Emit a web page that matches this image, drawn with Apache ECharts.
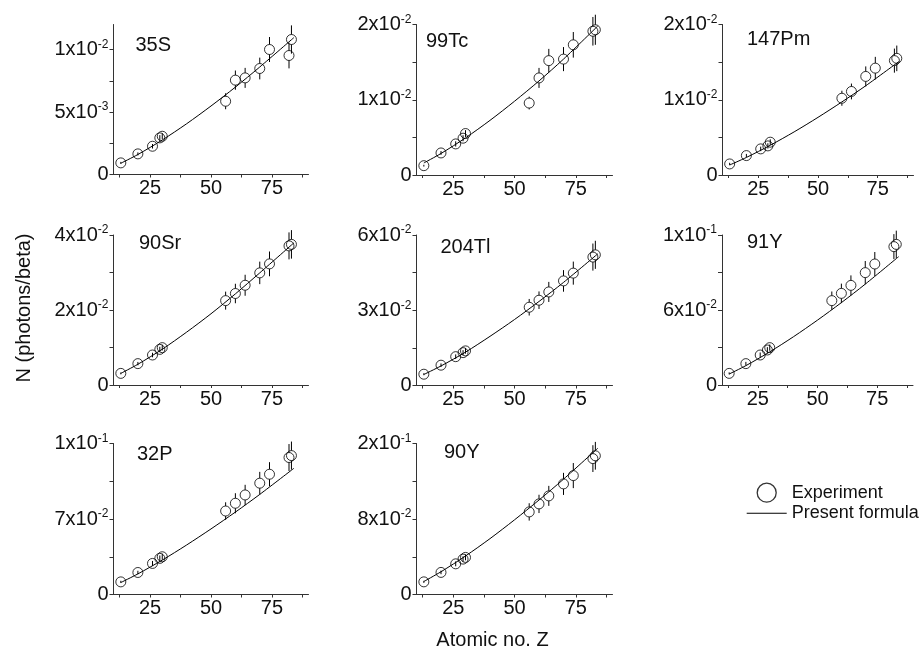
<!DOCTYPE html>
<html>
<head>
<meta charset="utf-8">
<script src="https://cdn.jsdelivr.net/npm/echarts@6/dist/echarts.min.js"></script>
<style>
  html, body { margin: 0; padding: 0; background: #fff; }
  #chart { width: 920px; height: 655px; }
</style>
</head>
<body>
<div id="chart"></div>
<script>
const FONT = "'Liberation Sans', Arial, Helvetica, sans-serif";

// Target atomic numbers (Al, Ca, Fe, Cu, Zn, Ba, Nd, Gd, Yb, W, Pb, Bi)
const zTargets = [13, 20, 26, 29, 30, 56, 60, 64, 70, 74, 82, 83];
// Z values at which the formula curve is tabulated
const zFormula = [13, 20, 30, 40, 50, 60, 70, 84];

const isotopes = ['35S', '99Tc', '147Pm', '90Sr', '204Tl', '91Y', '32P', '90Y'];

// Measured yields N (photons/beta) per target, and their uncertainties
const exp35S   = [0.93e-3, 1.65e-3, 2.26e-3, 2.93e-3, 3.06e-3, 5.86e-3, 7.55e-3, 7.73e-3, 8.48e-3, 10.0e-3, 9.52e-3, 10.8e-3];
const err35S   = [0.08e-3, 0.12e-3, 0.18e-3, 0.22e-3, 0.24e-3, 0.64e-3, 0.77e-3, 0.80e-3, 0.87e-3, 1.00e-3, 1.03e-3, 1.13e-3];
const exp99Tc  = [1.24e-3, 2.93e-3, 4.13e-3, 4.89e-3, 5.51e-3, 9.56e-3, 12.9e-3, 15.2e-3, 15.4e-3, 17.3e-3, 19.1e-3, 19.3e-3];
const err99Tc  = [0.12e-3, 0.25e-3, 0.35e-3, 0.40e-3, 0.45e-3, 0.85e-3, 1.33e-3, 1.56e-3, 1.60e-3, 1.70e-3, 1.90e-3, 2.00e-3];
const exp147Pm = [1.47e-3, 2.58e-3, 3.47e-3, 3.87e-3, 4.36e-3, null, 10.2e-3, 11.1e-3, 13.1e-3, 14.2e-3, 15.2e-3, 15.5e-3];
const err147Pm = [0.15e-3, 0.22e-3, 0.30e-3, 0.35e-3, 0.38e-3, null, 1.00e-3, 1.05e-3, 1.33e-3, 1.50e-3, 1.60e-3, 1.70e-3];
const exp90Sr  = [3.1e-3, 5.7e-3, 8.0e-3, 9.5e-3, 9.96e-3, 22.5e-3, 24.4e-3, 26.6e-3, 29.9e-3, 32.3e-3, 37.1e-3, 37.5e-3];
const err90Sr  = [0.25e-3, 0.45e-3, 0.60e-3, 0.70e-3, 0.75e-3, 2.4e-3, 2.6e-3, 2.8e-3, 3.0e-3, 3.3e-3, 3.6e-3, 3.8e-3];
const exp204Tl = [4.5e-3, 8.1e-3, 11.5e-3, 13.1e-3, 13.8e-3, 31.2e-3, 34.0e-3, 37.3e-3, 41.7e-3, 44.8e-3, 51.2e-3, 52.1e-3];
const err204Tl = [0.4e-3, 0.7e-3, 0.9e-3, 1.0e-3, 1.1e-3, 3.3e-3, 3.5e-3, 4.0e-3, 4.3e-3, 4.6e-3, 5.4e-3, 5.6e-3];
const exp91Y   = [9.3e-3, 17.1e-3, 24.0e-3, 28.0e-3, 29.9e-3, 67.5e-3, 73.3e-3, 79.7e-3, 89.9e-3, 96.8e-3, 110.7e-3, 112.5e-3];
const err91Y   = [0.8e-3, 1.4e-3, 2.0e-3, 2.3e-3, 2.5e-3, 7.3e-3, 7.8e-3, 8.0e-3, 9.3e-3, 9.6e-3, 10.0e-3, 11.0e-3];
const exp32P   = [11.7e-3, 20.4e-3, 28.8e-3, 33.5e-3, 35.0e-3, 77.4e-3, 84.6e-3, 92.3e-3, 103.2e-3, 111.5e-3, 127.0e-3, 128.8e-3];
const err32P   = [1.0e-3, 1.6e-3, 2.3e-3, 2.7e-3, 2.8e-3, 8.1e-3, 9.3e-3, 9.4e-3, 10.5e-3, 11.2e-3, 12.5e-3, 13.0e-3];
const exp90Y   = [13.4e-3, 23.4e-3, 32.5e-3, 37.5e-3, 39.3e-3, 87.5e-3, 96.0e-3, 104.5e-3, 117.2e-3, 126.0e-3, 144.0e-3, 147.0e-3];
const err90Y   = [1.1e-3, 1.9e-3, 2.6e-3, 3.0e-3, 3.1e-3, 9.2e-3, 9.7e-3, 10.6e-3, 11.7e-3, 13.3e-3, 14.2e-3, 14.7e-3];

// Present formula, tabulated at zFormula
const fit35S   = [0.90e-3, 1.60e-3, 2.76e-3, 4.06e-3, 5.48e-3, 6.99e-3, 8.60e-3, 10.95e-3];
const fit99Tc  = [1.60e-3, 2.86e-3, 4.93e-3, 7.26e-3, 9.80e-3, 12.5e-3, 15.4e-3, 19.8e-3];
const fit147Pm = [1.33e-3, 2.33e-3, 3.95e-3, 5.73e-3, 7.66e-3, 9.71e-3, 11.86e-3, 15.1e-3];
const fit90Sr  = [3.10e-3, 5.53e-3, 9.54e-3, 14.1e-3, 19.0e-3, 24.3e-3, 29.9e-3, 37.9e-3];
const fit204Tl = [4.40e-3, 7.79e-3, 13.3e-3, 19.6e-3, 26.3e-3, 33.5e-3, 41.1e-3, 52.5e-3];
const fit91Y   = [8.8e-3, 15.5e-3, 26.5e-3, 38.7e-3, 51.9e-3, 65.9e-3, 80.7e-3, 102.7e-3];
const fit32P   = [11.1e-3, 19.1e-3, 31.9e-3, 45.9e-3, 60.8e-3, 76.4e-3, 92.8e-3, 117.0e-3];
const fit90Y   = [13.8e-3, 24.1e-3, 40.8e-3, 59.2e-3, 79.1e-3, 100.1e-3, 122.2e-3, 155.0e-3];

const expSets = [exp35S, exp99Tc, exp147Pm, exp90Sr, exp204Tl, exp91Y, exp32P, exp90Y];
const errSets = [err35S, err99Tc, err147Pm, err90Sr, err204Tl, err91Y, err32P, err90Y];
const fitSets = [fit35S, fit99Tc, fit147Pm, fit90Sr, fit204Tl, fit91Y, fit32P, fit90Y];

// Axis ranges and tick labels
const xRange = [10, 90];
const xTickValues = [12.5, 25, 37.5, 50, 62.5, 75, 87.5];
const xLabelValues = [25, 50, 75];
const yMax = [0.012, 0.02, 0.02, 0.04, 0.06, 0.12, 0.14, 0.16];
const yTickStep = [0.0025, 0.005, 0.005, 0.01, 0.015, 0.03, 0.035, 0.04];
const yLabelValues = [
  [0, 0.005, 0.01], [0, 0.01, 0.02], [0, 0.01, 0.02], [0, 0.02, 0.04],
  [0, 0.03, 0.06], [0, 0.06, 0.12], [0, 0.07, 0.14], [0, 0.08, 0.16]
];
const yLabelTexts = [
  ['0', '5x10^-3', '1x10^-2'], ['0', '1x10^-2', '2x10^-2'], ['0', '1x10^-2', '2x10^-2'],
  ['0', '2x10^-2', '4x10^-2'], ['0', '3x10^-2', '6x10^-2'], ['0', '6x10^-2', '1x10^-1'],
  ['0', '7x10^-2', '1x10^-1'], ['0', '8x10^-2', '2x10^-1']
];

// Panel layout (pixels)
const panelBoxes = [
  { left: 113.5, top: 24.5, width: 195, height: 150 },
  { left: 416.5, top: 24.5, width: 196, height: 150.5 },
  { left: 722.5, top: 24.5, width: 191, height: 150.5 },
  { left: 113.5, top: 235, width: 195, height: 150 },
  { left: 416.5, top: 235, width: 196, height: 150.5 },
  { left: 722, top: 235, width: 191, height: 150 },
  { left: 113.5, top: 443.5, width: 195, height: 151 },
  { left: 416.5, top: 443.5, width: 196, height: 151 }
];
const nameSpots = [
  [135.5, 35], [426, 31], [747, 29.5], [139, 233.5],
  [440.5, 237.5], [747, 232], [137, 444.5], [444, 442]
];

const AXIS_COLOR = '#333';
const R = 5; // marker radius

function toRich(label) {
  const parts = label.split('^');
  return parts.length === 2 ? '{m|' + parts[0] + '}{e|' + parts[1] + '}' : '{m|' + parts[0] + '}';
}

const grid = [], xAxis = [], yAxis = [], series = [], title = [];

isotopes.forEach((iso, i) => {
  grid.push(Object.assign({ containLabel: false, outerBoundsMode: 'none' }, panelBoxes[i]));
  title.push({
    text: iso, left: nameSpots[i][0], top: nameSpots[i][1], padding: 0,
    textStyle: { fontFamily: FONT, fontSize: 20, fontWeight: 'normal', color: '#111' }
  });

  xAxis.push({
    type: 'value', gridIndex: i, min: xRange[0], max: xRange[1],
    splitLine: { show: false },
    axisLine: { show: true, onZero: false, lineStyle: { color: AXIS_COLOR, width: 1 } },
    axisTick: { show: true, inside: false, length: 3, customValues: xTickValues, lineStyle: { color: AXIS_COLOR } },
    axisLabel: { show: true, margin: 4, customValues: xLabelValues, fontFamily: FONT, fontSize: 20, color: '#111' }
  });

  const ticks = [];
  for (let k = 0; k * yTickStep[i] <= yMax[i] + 1e-12; k++) ticks.push(+(k * yTickStep[i]).toPrecision(10));
  const lv = yLabelValues[i], lt = yLabelTexts[i];
  yAxis.push({
    type: 'value', gridIndex: i, min: 0, max: yMax[i],
    splitLine: { show: false },
    axisLine: { show: true, onZero: false, lineStyle: { color: AXIS_COLOR, width: 1 } },
    axisTick: { show: true, inside: false, length: 4, customValues: ticks, lineStyle: { color: AXIS_COLOR } },
    axisLabel: {
      show: true, margin: 5, customValues: lv,
      formatter: (val) => {
        const j = lv.findIndex(v => Math.abs(v - val) < 1e-9);
        return j < 0 ? '' : toRich(lt[j]);
      },
      rich: {
        m: { fontFamily: FONT, fontSize: 20, color: '#111', lineHeight: 22 },
        e: { fontFamily: FONT, fontSize: 12, color: '#111', lineHeight: 12, verticalAlign: 'top' }
      }
    }
  });

  const pts = [];
  zTargets.forEach((z, k) => {
    if (expSets[i][k] != null) pts.push([z, expSets[i][k], errSets[i][k]]);
  });

  series.push({
    name: 'Present formula', type: 'line', xAxisIndex: i, yAxisIndex: i,
    data: zFormula.map((z, k) => [z, fitSets[i][k]]),
    symbol: 'none', smooth: 0.3, silent: true,
    itemStyle: { color: '#000' },
    lineStyle: { color: '#000', width: 1 }, z: 2
  });

  series.push({
    name: 'err' + i, type: 'custom', xAxisIndex: i, yAxisIndex: i,
    data: pts, silent: true, z: 3,
    renderItem: (params, api) => {
      const x = api.value(0), v = api.value(1), e = api.value(2);
      const c = api.coord([x, v]);
      const hi = api.coord([x, v + e]);
      const lo = api.coord([x, v - e]);
      const st = { stroke: '#000', lineWidth: 1 };
      if (lo[1] - c[1] > R) {
        return {
          type: 'group', children: [
            { type: 'line', shape: { x1: c[0], y1: hi[1], x2: c[0], y2: c[1] - R }, style: st },
            { type: 'line', shape: { x1: c[0], y1: c[1] + R, x2: c[0], y2: lo[1] }, style: st }
          ]
        };
      }
      return { type: 'line', shape: { x1: c[0], y1: hi[1], x2: c[0], y2: lo[1] }, style: st };
    }
  });

  series.push({
    name: 'Experiment', type: 'scatter', xAxisIndex: i, yAxisIndex: i,
    data: pts.map(p => [p[0], p[1]]),
    symbol: 'circle', symbolSize: 2 * R, silent: true, z: 4,
    itemStyle: { color: 'rgba(255,255,255,0)', borderColor: '#000', borderWidth: 1 }
  });
});

const chart = echarts.init(document.getElementById('chart'), null, { renderer: 'canvas' });
chart.setOption({
  backgroundColor: '#fff',
  animation: false,
  title: title,
  grid: grid,
  xAxis: xAxis,
  yAxis: yAxis,
  series: series,
  legend: {
    orient: 'vertical', left: 746.7, top: 482.5, padding: 0,
    itemWidth: 40, itemHeight: 19, itemGap: 1.5, selectedMode: false,
    textStyle: { fontFamily: FONT, fontSize: 18, color: '#111' },
    data: [
      { name: 'Experiment', icon: 'circle', itemStyle: { color: 'rgba(255,255,255,0)', borderColor: '#000', borderWidth: 1.3 } },
      { name: 'Present formula', icon: 'path://M0,0L40,0L40,1L0,1Z', itemStyle: { color: '#000', borderWidth: 0 } }
    ]
  },
  graphic: [
    {
      type: 'text', x: 24, y: 308, rotation: Math.PI / 2,
      style: { text: 'N (photons/beta)', fontFamily: FONT, fontSize: 20, fill: '#111', align: 'center', verticalAlign: 'middle' }
    },
    {
      type: 'text', x: 492.5, y: 640,
      style: { text: 'Atomic no. Z', fontFamily: FONT, fontSize: 20, fill: '#111', align: 'center', verticalAlign: 'middle' }
    }
  ]
});
</script>
</body>
</html>
